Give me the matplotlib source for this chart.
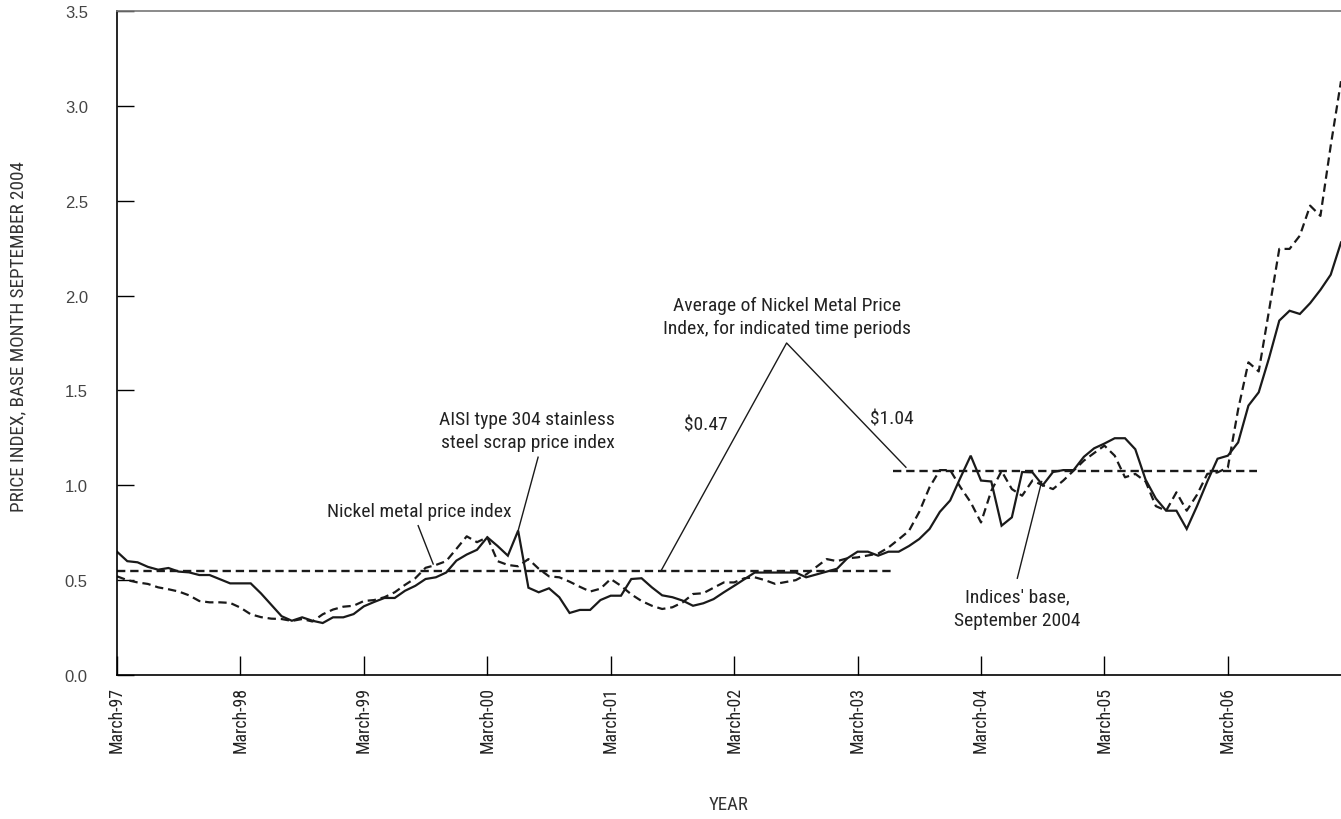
import matplotlib
matplotlib.use('Agg')
import matplotlib.pyplot as plt
import numpy as np

# narrow face for the labels, falls back to plain sans if none is present
NARROW = ['Roboto Condensed', 'DejaVu Sans Condensed', 'Liberation Sans Narrow', 'DejaVu Sans']
plt.rcParams['font.family'] = NARROW
plt.rcParams['font.stretch'] = 'condensed'
plt.rcParams['lines.scale_dashes'] = False

# monthly index values, March 1997 onward (base month September 2004 = 1.0)
scrap_304 = [
    0.65, 0.60, 0.594, 0.57, 0.555, 0.564, 0.545, 0.541, 0.527, 0.527,
    0.505, 0.483, 0.483, 0.483, 0.43, 0.37, 0.31, 0.286, 0.304, 0.286,
    0.274, 0.304, 0.304, 0.321, 0.362, 0.385, 0.406, 0.406, 0.444, 0.47,
    0.506, 0.515, 0.54, 0.603, 0.635, 0.66, 0.726, 0.68, 0.629, 0.761,
    0.46, 0.436, 0.457, 0.41, 0.327, 0.343, 0.343, 0.395, 0.418, 0.418,
    0.506, 0.51, 0.462, 0.42, 0.41, 0.392, 0.365, 0.378, 0.40, 0.436,
    0.47, 0.505, 0.54, 0.54, 0.54, 0.54, 0.54, 0.515, 0.53, 0.545,
    0.56, 0.615, 0.65, 0.65, 0.629, 0.65, 0.65, 0.68, 0.717, 0.77,
    0.86, 0.92, 1.04, 1.156, 1.025, 1.02, 0.787, 0.831, 1.07, 1.068,
    1.0, 1.07, 1.08, 1.08, 1.15, 1.195, 1.22, 1.248, 1.248, 1.19,
    1.03, 0.93, 0.866, 0.866, 0.77, 0.89, 1.02, 1.14, 1.156, 1.226,
    1.42, 1.49, 1.67, 1.868, 1.92, 1.903, 1.96, 2.03, 2.11, 2.28,
]
nickel_metal = [
    0.52, 0.50, 0.488, 0.48, 0.462, 0.452, 0.44, 0.42, 0.39, 0.383,
    0.383, 0.38, 0.355, 0.32, 0.305, 0.297, 0.295, 0.285, 0.295, 0.282,
    0.32, 0.345, 0.36, 0.365, 0.39, 0.395, 0.41, 0.436, 0.475, 0.51,
    0.565, 0.58, 0.60, 0.665, 0.731, 0.70, 0.726, 0.60, 0.58, 0.573,
    0.611, 0.56, 0.52, 0.515, 0.492, 0.465, 0.44, 0.455, 0.506, 0.47,
    0.425, 0.39, 0.365, 0.348, 0.357, 0.383, 0.427, 0.431, 0.46, 0.488,
    0.488, 0.51, 0.515, 0.50, 0.48, 0.49, 0.50, 0.53, 0.57, 0.611,
    0.60, 0.615, 0.62, 0.63, 0.64, 0.672, 0.715, 0.76, 0.86, 0.99,
    1.08, 1.08, 0.99, 0.91, 0.804, 0.971, 1.075, 0.98, 0.945, 1.025,
    1.0, 0.98, 1.025, 1.077, 1.13, 1.17, 1.209, 1.156, 1.042, 1.06,
    1.02, 0.89, 0.866, 0.963, 0.866, 0.95, 1.06, 1.068, 1.094, 1.40,
    1.648, 1.60, 1.92, 2.246, 2.246, 2.316, 2.474, 2.42, 2.79, 3.13,
]
months = np.arange(len(scrap_304))

# averages of the nickel metal index over the two periods (month spans)
avg_periods = [(0, 75.4), (75.4, 110.8)]
avg_levels = [0.55, 1.073]
avg_prices = ['$0.47', '$1.04']

tick_months = list(range(0, 120, 12))
tick_labels = ['March-97', 'March-98', 'March-99', 'March-00', 'March-01',
               'March-02', 'March-03', 'March-04', 'March-05', 'March-06']

fig = plt.figure(figsize=(13.41, 8.2), dpi=100)
ax = fig.add_axes([0.08725, 0.17561, 0.91275, 0.80976])

ax.plot(months, scrap_304, color='#1a1a1a', lw=1.6, solid_joinstyle='miter')
ax.plot(months, nickel_metal, color='#1a1a1a', lw=1.6, dashes=(6, 3.5))

for (x0, x1), lvl in zip(avg_periods, avg_levels):
    ax.plot([x0, x1], [lvl, lvl], color='#1a1a1a', lw=1.7, dashes=(6, 3.5))

ax.set_xlim(0, 119)
ax.set_ylim(0, 3.5)
ax.set_xticks(tick_months)
ax.set_xticklabels(tick_labels, rotation=90, fontsize=12.8, color='#222222')
ax.set_yticks(np.arange(0, 3.51, 0.5))
ax.set_yticklabels(['%.1f' % v for v in np.arange(0, 3.51, 0.5)],
                   family='Liberation Sans', stretch='normal',
                   fontsize=12, color='#444444')

ax.tick_params(axis='y', direction='in', length=12.5, width=1.0, pad=21)
ax.tick_params(axis='x', direction='in', length=14, width=1.0, pad=8)

ax.spines['right'].set_visible(False)
ax.spines['top'].set_color('#777777')
for s in ('left', 'bottom', 'top'):
    ax.spines[s].set_linewidth(1.2)

ax.set_ylabel('PRICE INDEX, BASE MONTH SEPTEMBER 2004', fontsize=13.8, color='#333333')
ax.yaxis.set_label_coords(-0.0735, 0.511)
ax.set_xlabel('YEAR', fontsize=13.5, color='#333333')
ax.xaxis.set_label_coords(0.5, -0.1805)

txt = dict(fontsize=14, color='#222222', ha='center', va='center', linespacing=1.4)
lead = dict(color='#1a1a1a', lw=1.0)

# average callout
apex = (65.1, 1.75)
ax.text(65.1, 1.89, 'Average of Nickel Metal Price\nIndex, for indicated time periods', **txt)
ax.plot([52.9, apex[0], 76.7], [avg_levels[0], apex[1], 1.095], **lead)
ax.text(57.3, 1.323, avg_prices[0], **txt)
ax.text(75.3, 1.35, avg_prices[1], **txt)

ax.text(39.9, 1.288, 'AISI type 304 stainless\nsteel scrap price index', **txt)
ax.plot([40.94, 39.0], [1.148, scrap_304[39]], **lead)

ax.text(29.35, 0.866, 'Nickel metal price index', **txt)
ax.plot([29.28, 30.74], [0.787, 0.585], **lead)

ax.text(87.5, 0.352, "Indices' base,\nSeptember 2004", **txt)
ax.plot([87.53, 89.9], [0.51, 1.02], **lead)

fig.savefig('out.png', dpi=100)
plt.close(fig)
